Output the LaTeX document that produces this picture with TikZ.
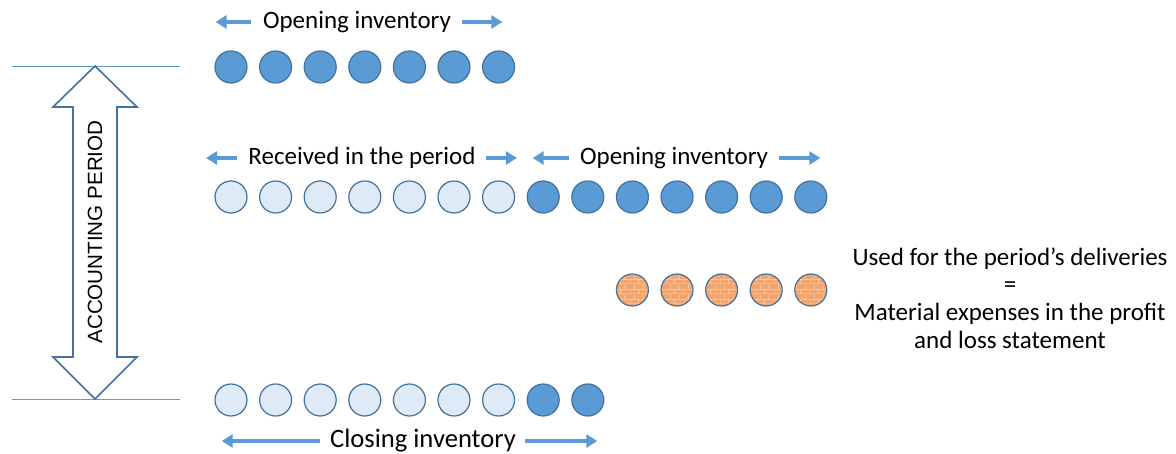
\documentclass[tikz,border=0pt]{standalone}
\usepackage{fontspec}
\setmainfont{Carlito}
\newfontfamily\arialfont{Liberation Sans}
\usetikzlibrary{arrows.meta,patterns.meta,positioning}
\definecolor{darkblue}{HTML}{5B9BD5}
\definecolor{edgeblue}{HTML}{41719C}
\definecolor{paleblue}{HTML}{DEEBF7}
\definecolor{brickfill}{HTML}{F2A46E}
\definecolor{brickline}{HTML}{FBD8BC}
\tikzdeclarepattern{
  name=smallbricks,
  type=uncolored,
  bottom left={(0pt,0pt)},
  top right={(9pt,5pt)},
  tile size={(9pt,5pt)},
  code={
    \draw[line width=0.35pt] (0pt,0pt) -- (9pt,0pt) (0pt,2.5pt) -- (9pt,2.5pt)
      (0pt,0pt) -- (0pt,2.5pt) (4.5pt,0pt) -- (4.5pt,2.5pt)
      (2.25pt,2.5pt) -- (2.25pt,5pt) (6.75pt,2.5pt) -- (6.75pt,5pt);
  }
}
\begin{document}
\begin{tikzpicture}[x=0.5pt,y=-0.5pt,
  ball/.style={circle,draw=edgeblue,line width=0.6pt,minimum size=16pt,inner sep=0pt},
  full/.style={ball,fill=darkblue},
  empty/.style={ball,fill=paleblue},
  brick/.style={ball,preaction={fill=brickfill},pattern=smallbricks,pattern color=brickline},
  lbl/.style={font=\fontsize{12.5}{13.8}\selectfont,inner sep=0pt},
  arr/.style={draw=darkblue,line width=2pt,-{Triangle[length=5.5pt,width=6.5pt]}},
  rule/.style={draw=darkblue,line width=0.4pt}]
\useasboundingbox (0,0) rectangle (1176,454);

\draw[rule] (12,66) -- (180,66);
\draw[rule] (12,399) -- (180,399);
\draw[draw=edgeblue,line width=0.8pt,fill=white] (95,66) -- (137,107) -- (117,107) -- (117,357)
  -- (137,357) -- (95,399) -- (53,357) -- (73,357) -- (73,107) -- (53,107) -- cycle;
\node[font=\arialfont\fontsize{10.3}{12}\selectfont,rotate=90] (period) at (95,232) {ACCOUNTING PERIOD};

% opening inventory
\node[lbl] (open1) at (357,22) {Opening inventory};
\draw[arr] ([xshift=-6pt]open1.west) -- ++(-35,0);
\draw[arr] ([xshift=5.5pt]open1.east) -- ++(40,0);
\foreach \i in {0,...,6}
  \node[full] (a\i) at ({231+44.6*\i},67) {};

% received in the period
\node[lbl] (recv) at (362,158) {Received in the period};
\draw[arr] ([xshift=-5.5pt]recv.west) -- ++(-31,0);
\draw[arr] ([xshift=5pt]recv.east) -- ++(31,0);
\node[lbl] (open2) at (674,158) {Opening inventory};
\draw[arr] ([xshift=-5.5pt]open2.west) -- ++(-36,0);
\draw[arr] ([xshift=5.5pt]open2.east) -- ++(41,0);
\foreach \i in {0,...,6}
  \node[empty] (b\i) at ({231+44.6*\i},197) {};
\foreach \i in {7,...,13}
  \node[full] (b\i) at ({231+44.6*\i},197) {};

% used in the period
\foreach \i in {9,...,13}
  \node[brick] (c\i) at ({231+44.6*\i},290) {};
\node[lbl,align=center] (used) at (1010,298)
  {Used for the period’s deliveries\\=\\Material expenses in the profit\\and loss statement};

% closing inventory
\foreach \i in {0,...,6}
  \node[empty] (d\i) at ({231+44.6*\i},400) {};
\foreach \i in {7,8}
  \node[full] (d\i) at ({231+44.6*\i},400) {};
\node[lbl,font=\fontsize{13.3}{14}\selectfont] (close) at (423,441) {Closing inventory};
\draw[arr] ([xshift=-5pt]close.west) -- ++(-98,0);
\draw[arr] ([xshift=4.5pt]close.east) -- ++(72,0);
\end{tikzpicture}
\end{document}
